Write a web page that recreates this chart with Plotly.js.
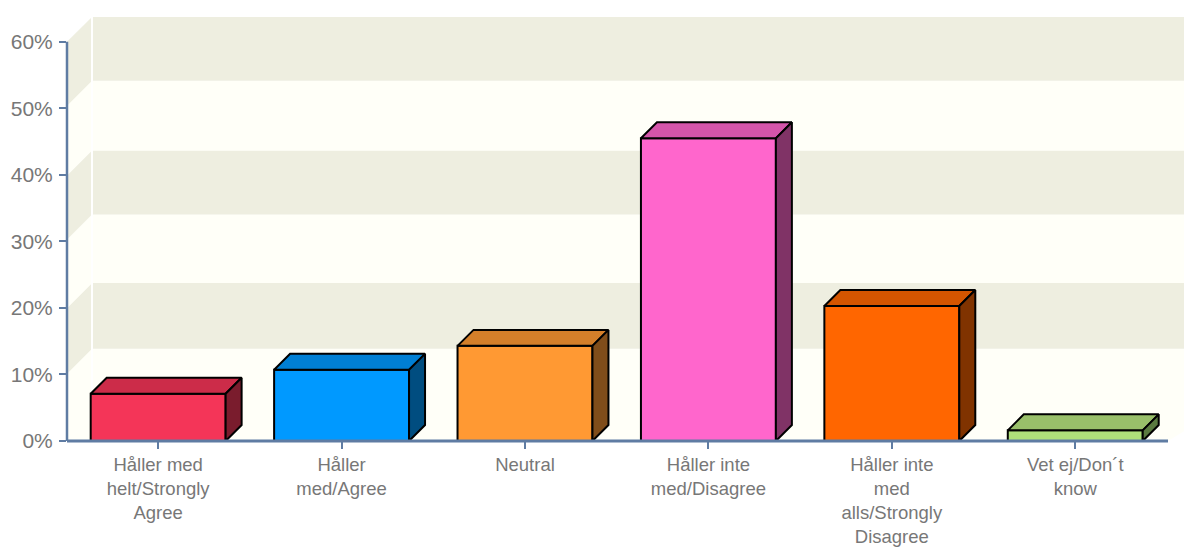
<!DOCTYPE html>
<html><head><meta charset="utf-8">
<script src="https://cdn.plot.ly/plotly-3.0.1.min.js"></script>
<style>html,body{margin:0;padding:0;background:#fff}#c{width:1184px;height:548px}</style>
</head><body><div id="c"></div>
<script>
const categories = ["Håller med<br>helt/Strongly<br>Agree","Håller<br>med/Agree","Neutral","Håller inte<br>med/Disagree","Håller inte<br>med<br>alls/Strongly<br>Disagree","Vet ej/Don´t<br>know"];
const positions = [0,1,2,3,4,5];
const values = [7.1,10.7,14.3,45.5,20.3,1.6];
const frontColors = ["#F43558","#0099FF","#FF9933","#FF66CC","#FF6600","#AEE07A"];
const topColors = ["#CC2C49","#007FD4","#D47F2A","#D455AA","#D45500","#99C06A"];
const sideColors = ["#7A1C2D","#004D80","#804D1A","#803366","#803300","#5A7A40"];
const yTicks = [0,10,20,30,40,50,60];
const bandEdges = [0,10.1,20,30.3,39.9,50.4,60];
const bandColors = ["#FFFFF8","#EEEEE0"];

const W=1184,H=548,L=66.5,AX0=441.5,PX_X=183.5,PX_Y=6.66,C0=157.7;
const px = p=>p/PX_X, py = p=>p/PX_Y;
const halfW=px(67.5), bx=px(16), by=py(16), wx=px(25), wy=py(25);
const xMin=(L-C0)/PX_X, xMax=xMin+(W-L)/PX_X, yMax=AX0/PX_Y;
const axisColor="#5F7CA3";

const traces=[{type:"bar",x:positions,y:values,width:halfW*2,
  marker:{color:frontColors,line:{color:"#000",width:2}},hoverinfo:"skip"}];
values.forEach((v,i)=>{
  const a=positions[i]-halfW,b=positions[i]+halfW;
  traces.push({type:"scatter",mode:"lines",fill:"toself",fillcolor:topColors[i],
    line:{color:"#000",width:2},hoverinfo:"skip",
    x:[a,a+bx,b+bx,b,a],y:[v,v+by,v+by,v,v]});
  traces.push({type:"scatter",mode:"lines",fill:"toself",fillcolor:sideColors[i],
    line:{color:"#000",width:2},hoverinfo:"skip",
    x:[b,b+bx,b+bx,b,b],y:[0,by,v+by,v,0]});
});

const x0=xMin, xWall=xMin+wx, xRight=xMax+wx;
const shapes=[];
const poly=(pts,color)=>({type:"path",layer:"below",xref:"x",yref:"y",fillcolor:color,line:{width:0},
  path:"M"+pts.map(p=>p[0]+","+p[1]).join("L")+"Z"});
// floor
shapes.push(poly([[x0,0],[xWall,wy],[xMax+wx,wy],[xMax-px(16),0]],bandColors[0]));
for(let k=0;k<bandEdges.length-1;k++){
  const lo=bandEdges[k],hi=bandEdges[k+1],col=bandColors[k%2];
  shapes.push(poly([[xWall,lo+wy],[xRight,lo+wy],[xRight,hi+wy],[xWall,hi+wy]],col));
  shapes.push(poly([[x0,lo],[xWall,lo+wy],[xWall,hi+wy],[x0,hi]],col));
}
shapes.push({type:"line",layer:"below",xref:"x",yref:"y",x0:xWall,x1:xWall,y0:wy,y1:60+wy,line:{color:"#fff",width:2}});
shapes.push({type:"line",layer:"above",xref:"paper",yref:"y",x0:0,x1:0,y0:0,y1:60,line:{color:axisColor,width:2.5}});
shapes.push({type:"line",layer:"above",xref:"paper",yref:"paper",x0:0,x1:(1168-L)/(W-L),y0:0,y1:0,line:{color:axisColor,width:3}});

Plotly.newPlot("c",traces,{
  width:W,height:H,margin:{l:L,r:0,t:0,b:H-AX0,pad:0},
  paper_bgcolor:"#fff",plot_bgcolor:"rgba(0,0,0,0)",showlegend:false,shapes,
  font:{family:"Liberation Sans, Arial, sans-serif",color:"#777"},
  xaxis:{range:[xMin,xMax],tickmode:"array",tickvals:positions,ticktext:categories,tickangle:0,
    ticks:"outside",ticklen:7,tickwidth:2,tickcolor:axisColor,showgrid:false,zeroline:false,showline:false,
    tickfont:{size:18.5,color:"#777"},automargin:false},
  yaxis:{range:[0,yMax],tickmode:"array",tickvals:yTicks,ticktext:yTicks.map(t=>t+"%"),
    ticks:"outside",ticklen:7,tickwidth:2,tickcolor:axisColor,showgrid:false,zeroline:false,showline:false,
    ticklabelstandoff:2,tickfont:{size:21,color:"#777"},automargin:false}
},{staticPlot:true});
</script></body></html>
